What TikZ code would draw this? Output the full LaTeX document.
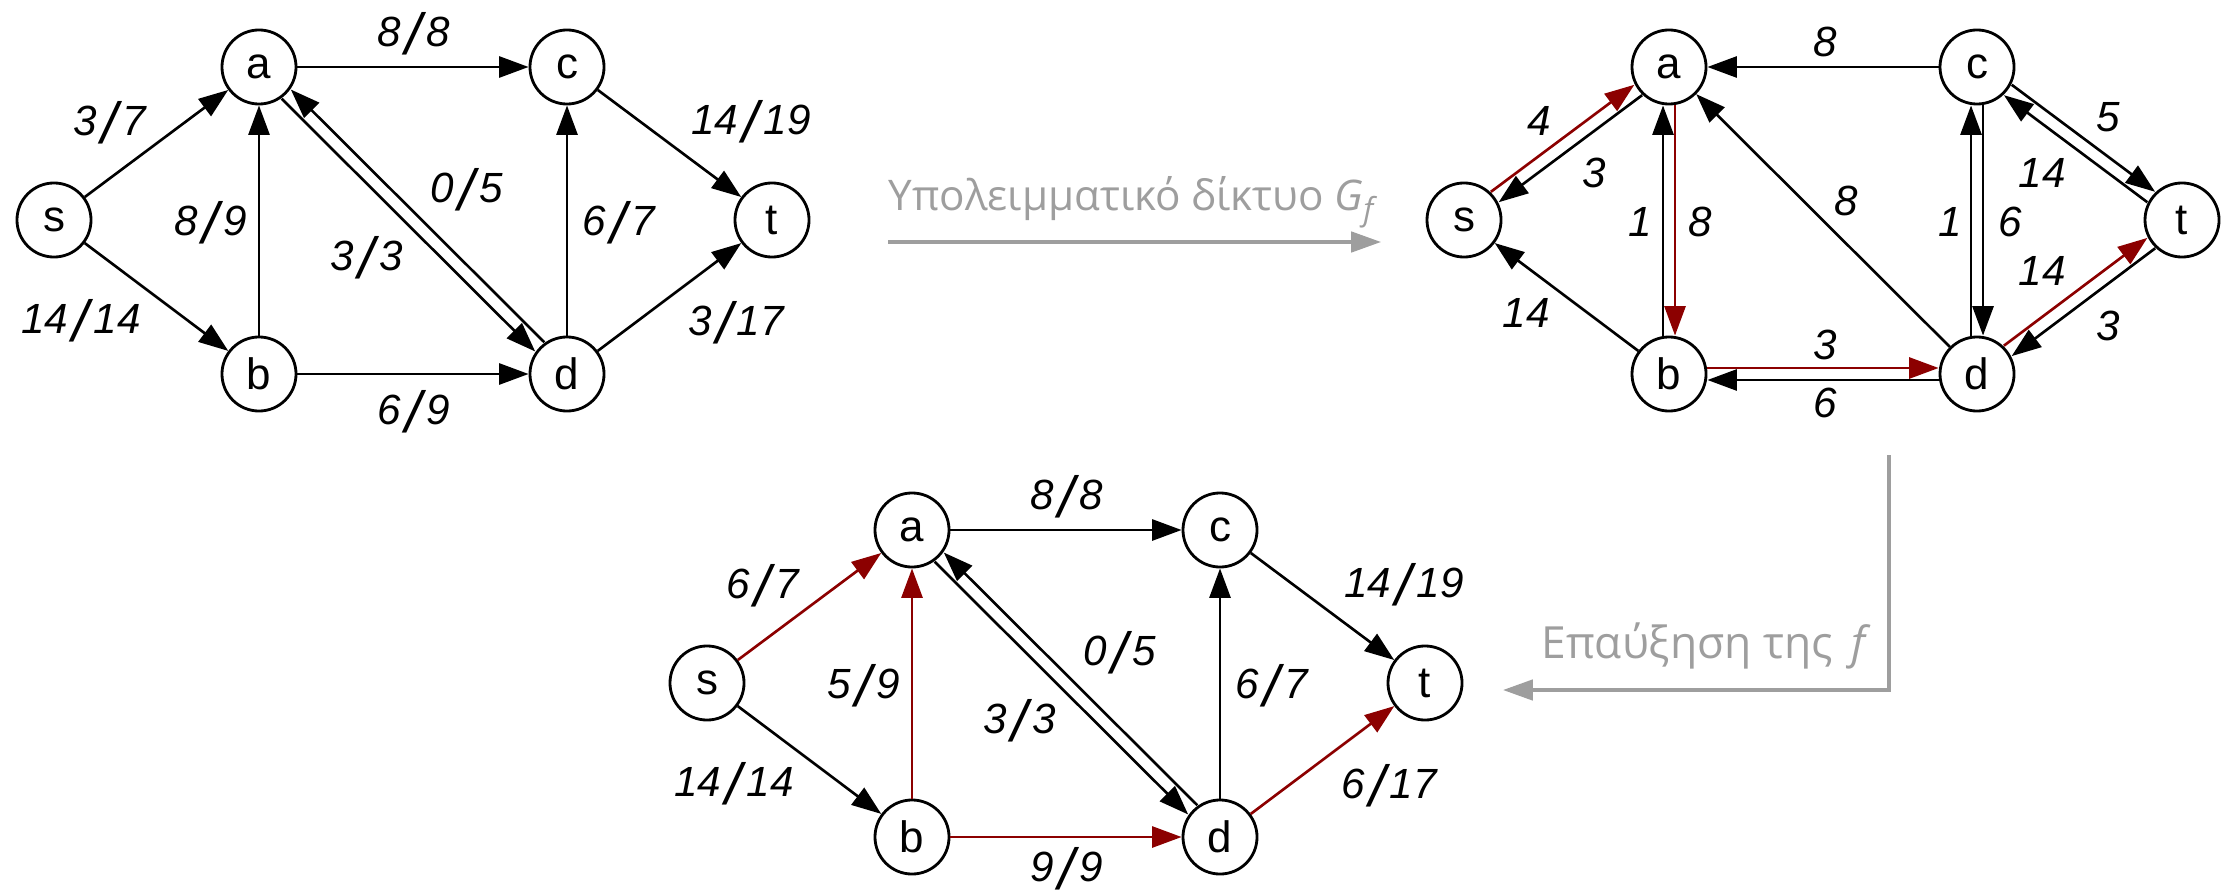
\documentclass[tikz,border=0pt]{standalone}
\usepackage{fontspec}
\setmainfont{Liberation Sans}
\newfontfamily\grfont{Open Sans}
\usetikzlibrary{arrows.meta}
\definecolor{augred}{RGB}{140,0,0}
\definecolor{arrgray}{RGB}{158,158,158}
\newcommand{\fl}[2]{#1\kern1.3pt\raisebox{-2.4pt}[\height][0pt]{\fontsize{16.5}{16.5}\selectfont/}\kern1.3pt#2}
\begin{document}
\begin{tikzpicture}[x=0.01cm,y=-0.01cm,
  vtx/.style={circle,draw,line width=0.8pt,minimum size=0.74cm,inner sep=0pt,outer sep=0.4pt,font=\fontsize{12.5}{12.5}\selectfont},
  edge/.style={line width=0.75pt,-{Triangle[length=8.4pt,width=6pt]}},
  aug/.style={edge,color=augred},
  lbl/.style={font=\fontsize{12}{12}\selectfont\itshape,inner sep=0.5pt,anchor=base,yshift=-4.3pt},
  garrow/.style={draw=arrgray,line width=1pt,-{Triangle[length=8.5pt,width=5.8pt]}},
  gtext/.style={text=arrgray,font=\grfont\fontsize{12}{12}\selectfont,inner sep=0pt}
]
\useasboundingbox (0,0) rectangle (2231,894);

% ---------- top-left flow network ----------
\begin{scope}[shift={(54,220)},name prefix=L-]
  \node[vtx] (s) at (0,0) {s};
  \node[vtx] (a) at (205,-153) {a};
  \node[vtx] (c) at (513,-153) {c};
  \node[vtx] (t) at (718,0) {t};
  \node[vtx] (b) at (205,154) {b};
  \node[vtx] (d) at (513,154) {d};
  \draw[edge] (s) -- (a);
  \draw[edge] (s) -- (b);
  \draw[edge] (b) -- (a);
  \draw[edge] (a) -- (c);
  \draw[edge,transform canvas={shift={(-4.6,4.6)}}] (a) -- (d);
  \draw[edge,transform canvas={shift={(4.6,-4.6)}}] (d) -- (a);
  \draw[edge] (d) -- (c);
  \draw[edge] (c) -- (t);
  \draw[edge] (d) -- (t);
  \draw[edge] (b) -- (d);
  \node[lbl] (l1) at (56,-100) {\fl{3}{7}};
  \node[lbl] (l2) at (27,98) {\fl{14}{14}};
  \node[lbl] (l3) at (157,0) {\fl{8}{9}};
  \node[lbl] (l4) at (360,-189) {\fl{8}{8}};
  \node[lbl] (l5) at (413,-33) {\fl{0}{5}};
  \node[lbl] (l6) at (313,35) {\fl{3}{3}};
  \node[lbl] (l7) at (565,0) {\fl{6}{7}};
  \node[lbl] (l8) at (697,-101) {\fl{14}{19}};
  \node[lbl] (l9) at (682,100) {\fl{3}{17}};
  \node[lbl] (l10) at (360,189) {\fl{6}{9}};
\end{scope}

% ---------- top-right residual network ----------
\begin{scope}[shift={(1464,220)},name prefix=R-]
  \node[vtx] (s) at (0,0) {s};
  \node[vtx] (a) at (205,-153) {a};
  \node[vtx] (c) at (513,-153) {c};
  \node[vtx] (t) at (718,0) {t};
  \node[vtx] (b) at (205,154) {b};
  \node[vtx] (d) at (513,154) {d};
  \draw[aug,transform canvas={shift={(-3.9,-5.2)}}] (s) -- (a);
  \draw[edge,transform canvas={shift={(3.9,5.2)}}] (a) -- (s);
  \draw[edge] (b) -- (s);
  \draw[edge,transform canvas={shift={(-6,0)}}] (b) -- (a);
  \draw[aug,transform canvas={shift={(6,0)}}] (a) -- (b);
  \draw[edge] (c) -- (a);
  \draw[edge] (d) -- (a);
  \draw[aug,transform canvas={shift={(0,-6)}}] (b) -- (d);
  \draw[edge,transform canvas={shift={(0,6)}}] (d) -- (b);
  \draw[edge,transform canvas={shift={(-6,0)}}] (d) -- (c);
  \draw[edge,transform canvas={shift={(6,0)}}] (c) -- (d);
  \draw[edge,transform canvas={shift={(3.9,-5.2)}}] (c) -- (t);
  \draw[edge,transform canvas={shift={(-3.9,5.2)}}] (t) -- (c);
  \draw[aug,transform canvas={shift={(-3.9,-5.2)}}] (d) -- (t);
  \draw[edge,transform canvas={shift={(3.9,5.2)}}] (t) -- (d);
  \node[lbl] (r1) at (75,-100) {4};
  \node[lbl] (r2) at (130,-48) {3};
  \node[lbl] (r3) at (62,92) {14};
  \node[lbl] (r4) at (176,1) {1};
  \node[lbl] (r5) at (236,1) {8};
  \node[lbl] (r6) at (361,-179) {8};
  \node[lbl] (r7) at (382,-20) {8};
  \node[lbl] (r8) at (361,124) {3};
  \node[lbl] (r9) at (361,182) {6};
  \node[lbl] (r10) at (486,1) {1};
  \node[lbl] (r11) at (546,1) {6};
  \node[lbl] (r12) at (644,-104) {5};
  \node[lbl] (r13) at (578,-48) {14};
  \node[lbl] (r14) at (578,50) {14};
  \node[lbl] (r15) at (644,105) {3};
\end{scope}

% ---------- bottom augmented flow network ----------
\begin{scope}[shift={(707,683)},name prefix=B-]
  \node[vtx] (s) at (0,0) {s};
  \node[vtx] (a) at (205,-153) {a};
  \node[vtx] (c) at (513,-153) {c};
  \node[vtx] (t) at (718,0) {t};
  \node[vtx] (b) at (205,154) {b};
  \node[vtx] (d) at (513,154) {d};
  \draw[aug] (s) -- (a);
  \draw[edge] (s) -- (b);
  \draw[aug] (b) -- (a);
  \draw[edge] (a) -- (c);
  \draw[edge,transform canvas={shift={(-4.6,4.6)}}] (a) -- (d);
  \draw[edge,transform canvas={shift={(4.6,-4.6)}}] (d) -- (a);
  \draw[edge] (d) -- (c);
  \draw[edge] (c) -- (t);
  \draw[aug] (d) -- (t);
  \draw[aug] (b) -- (d);
  \node[lbl] (m1) at (56,-100) {\fl{6}{7}};
  \node[lbl] (m2) at (27,98) {\fl{14}{14}};
  \node[lbl] (m3) at (157,0) {\fl{5}{9}};
  \node[lbl] (m4) at (360,-189) {\fl{8}{8}};
  \node[lbl] (m5) at (413,-33) {\fl{0}{5}};
  \node[lbl] (m6) at (313,35) {\fl{3}{3}};
  \node[lbl] (m7) at (565,0) {\fl{6}{7}};
  \node[lbl] (m8) at (697,-101) {\fl{14}{19}};
  \node[lbl] (m9) at (682,100) {\fl{6}{17}};
  \node[lbl] (m10) at (360,183) {\fl{9}{9}};
\end{scope}

% ---------- gray process arrows ----------
\coordinate (g1s) at (888,242);
\coordinate (g1e) at (1381,242);
\draw[garrow] (g1s) -- (g1e);
\node[gtext,anchor=base west] (txt1) at (888,210) {Υπολειμματικό δίκτυο {\itshape G}\raisebox{-3pt}{\fontsize{9}{9}\selectfont\itshape f}};
\coordinate (g2s) at (1889,455);
\coordinate (g2e) at (1503,690);
\draw[garrow] (g2s) |- (g2e);
\node[gtext,anchor=base east,font=\grfont\fontsize{12.6}{12.6}\selectfont] (txt2) at (1866,658) {Επαύξηση της\, {\itshape f}};
\end{tikzpicture}
\end{document}
